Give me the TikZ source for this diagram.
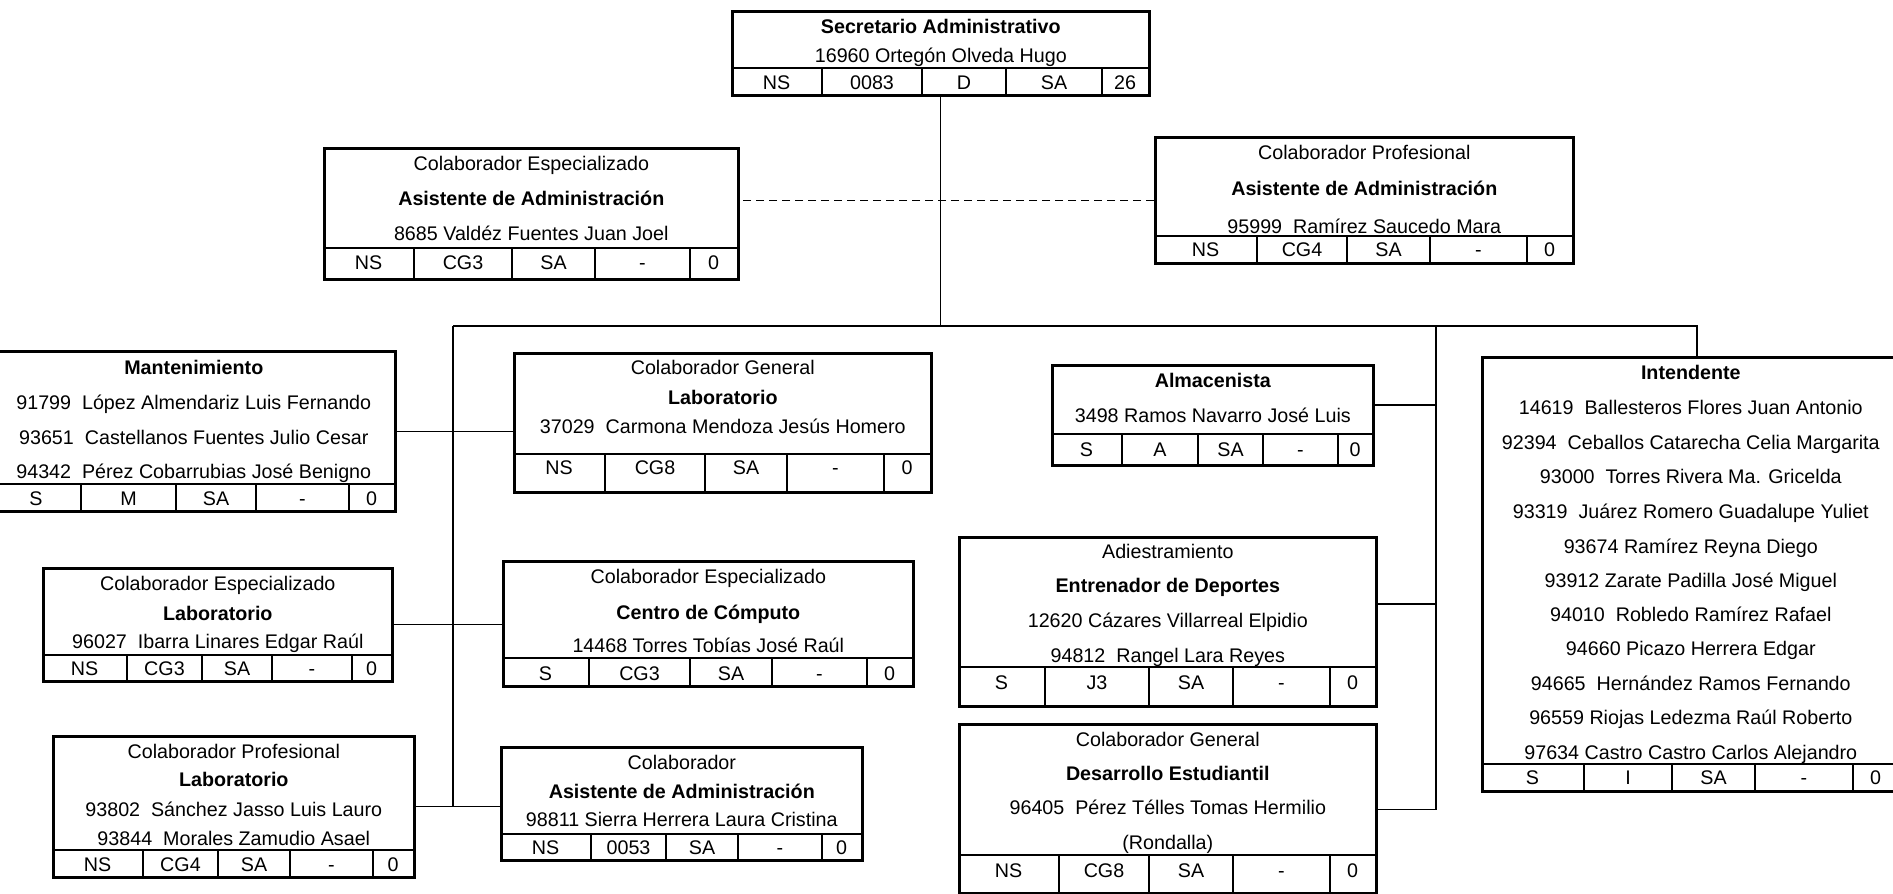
\documentclass[tikz,border=0pt]{standalone}
\usepackage{fontspec}
\setmainfont{Liberation Sans}

\begin{document}
\begin{tikzpicture}[x=1pt, y=-1pt,
  every node/.style={font=\fontsize{19.7pt}{24pt}\selectfont},
  puesto/.style={draw=black, line width=2.6pt, inner sep=0pt, anchor=north west},
  linea/.style={inner sep=0pt, text height=14pt, text depth=0pt},
  celda/.style={line width=2pt},
  enlace/.style={line width=1.3pt}]

\useasboundingbox (0,0) rectangle (1893,894);

\node [puesto, minimum width=417pt, minimum height=84pt] (sec) at (731,10) {};
\node [linea] (sec-l1) at (sec.north |- 0,26) {\bfseries Secretario Administrativo};
\node [linea] (sec-l2) at (sec.north |- 0,55) {16960 Ortegón Olveda Hugo};
\draw [celda] (sec.west |- 0,68) -- (sec.east |- 0,68) (822,68) -- (822,94) (922,68) -- (922,94) (1006,68) -- (1006,94) (1102,68) -- (1102,94);
\node [linea] (sec-c1) at (776.5,82) {NS};
\node [linea] (sec-c2) at (872,82) {0083};
\node [linea] (sec-c3) at (964,82) {D};
\node [linea] (sec-c4) at (1054,82) {SA};
\node [linea] (sec-c5) at (1125,82) {26};

\node [puesto, minimum width=414pt, minimum height=131pt] (ceasist) at (323,147) {};
\node [linea] (ceasist-l1) at (ceasist.north |- 0,163) {Colaborador Especializado};
\node [linea] (ceasist-l2) at (ceasist.north |- 0,198) {\bfseries Asistente de Administración};
\node [linea] (ceasist-l3) at (ceasist.north |- 0,233) {8685 Valdéz Fuentes Juan Joel};
\draw [celda] (ceasist.west |- 0,248) -- (ceasist.east |- 0,248) (414,248) -- (414,278) (512,248) -- (512,278) (595,248) -- (595,278) (690,248) -- (690,278);
\node [linea] (ceasist-c1) at (368.5,262) {NS};
\node [linea] (ceasist-c2) at (463,262) {CG3};
\node [linea] (ceasist-c3) at (553.5,262) {SA};
\node [linea] (ceasist-c4) at (642.5,262) {-};
\node [linea] (ceasist-c5) at (713.5,262) {0};

\node [puesto, minimum width=418pt, minimum height=126pt] (cpasist) at (1154,136) {};
\node [linea] (cpasist-l1) at (cpasist.north |- 0,152) {Colaborador Profesional};
\node [linea] (cpasist-l2) at (cpasist.north |- 0,188) {\bfseries Asistente de Administración};
\node [linea] (cpasist-l3) at (cpasist.north |- 0,226) {95999~~Ramírez Saucedo Mara};
\draw [celda] (cpasist.west |- 0,236) -- (cpasist.east |- 0,236) (1257,236) -- (1257,262) (1347,236) -- (1347,262) (1430,236) -- (1430,262) (1527,236) -- (1527,262);
\node [linea] (cpasist-c1) at (1205.5,249) {NS};
\node [linea] (cpasist-c2) at (1302,249) {CG4};
\node [linea] (cpasist-c3) at (1388.5,249) {SA};
\node [linea] (cpasist-c4) at (1478.5,249) {-};
\node [linea] (cpasist-c5) at (1549.5,249) {0};

\node [puesto, minimum width=403pt, minimum height=160pt] (mant) at (-9,350) {};
\node [linea] (mant-l1) at (mant.north |- 0,367) {\bfseries Mantenimiento};
\node [linea] (mant-l2) at (mant.north |- 0,402) {91799~~López Almendariz Luis Fernando};
\node [linea] (mant-l3) at (mant.north |- 0,437) {93651~~Castellanos Fuentes Julio Cesar};
\node [linea] (mant-l4) at (mant.north |- 0,471) {94342~~Pérez Cobarrubias José Benigno};
\draw [celda] (mant.west |- 0,484) -- (mant.east |- 0,484) (81,484) -- (81,510) (176,484) -- (176,510) (256,484) -- (256,510) (349,484) -- (349,510);
\node [linea] (mant-c1) at (36,498) {S};
\node [linea] (mant-c2) at (128.5,498) {M};
\node [linea] (mant-c3) at (216,498) {SA};
\node [linea] (mant-c4) at (302.5,498) {-};
\node [linea] (mant-c5) at (371.5,498) {0};

\node [puesto, minimum width=417pt, minimum height=139pt] (labcg) at (513,352) {};
\node [linea] (labcg-l1) at (labcg.north |- 0,367.5) {Colaborador General};
\node [linea] (labcg-l2) at (labcg.north |- 0,397) {\bfseries Laboratorio};
\node [linea] (labcg-l3) at (labcg.north |- 0,426) {37029~~Carmona Mendoza Jesús Homero};
\draw [celda] (labcg.west |- 0,454) -- (labcg.east |- 0,454) (605,454) -- (605,491) (705,454) -- (705,491) (787,454) -- (787,491) (884,454) -- (884,491);
\node [linea] (labcg-c1) at (559,467.5) {NS};
\node [linea] (labcg-c2) at (655,467.5) {CG8};
\node [linea] (labcg-c3) at (746,467.5) {SA};
\node [linea] (labcg-c4) at (835.5,467.5) {-};
\node [linea] (labcg-c5) at (907,467.5) {0};

\node [puesto, minimum width=349pt, minimum height=113pt] (celab) at (42,567) {};
\node [linea] (celab-l1) at (celab.north |- 0,583) {Colaborador Especializado};
\node [linea] (celab-l2) at (celab.north |- 0,613) {\bfseries Laboratorio};
\node [linea] (celab-l3) at (celab.north |- 0,641) {96027~~Ibarra Linares Edgar Raúl};
\draw [celda] (celab.west |- 0,655) -- (celab.east |- 0,655) (127,655) -- (127,680) (202,655) -- (202,680) (272,655) -- (272,680) (352,655) -- (352,680);
\node [linea] (celab-c1) at (84.5,668) {NS};
\node [linea] (celab-c2) at (164.5,668) {CG3};
\node [linea] (celab-c3) at (237,668) {SA};
\node [linea] (celab-c4) at (312,668) {-};
\node [linea] (celab-c5) at (371.5,668) {0};

\node [puesto, minimum width=410pt, minimum height=125pt] (cc) at (502,560) {};
\node [linea] (cc-l1) at (cc.north |- 0,576) {Colaborador Especializado};
\node [linea] (cc-l2) at (cc.north |- 0,612) {\bfseries Centro de Cómputo};
\node [linea] (cc-l3) at (cc.north |- 0,645) {14468 Torres Tobías José Raúl};
\draw [celda] (cc.west |- 0,658) -- (cc.east |- 0,658) (589,658) -- (589,685) (690,658) -- (690,685) (772,658) -- (772,685) (867,658) -- (867,685);
\node [linea] (cc-c1) at (545.5,673) {S};
\node [linea] (cc-c2) at (639.5,673) {CG3};
\node [linea] (cc-c3) at (731,673) {SA};
\node [linea] (cc-c4) at (819.5,673) {-};
\node [linea] (cc-c5) at (889.5,673) {0};

\node [puesto, minimum width=361pt, minimum height=141pt] (cplab) at (52,735) {};
\node [linea] (cplab-l1) at (cplab.north |- 0,751) {Colaborador Profesional};
\node [linea] (cplab-l2) at (cplab.north |- 0,779) {\bfseries Laboratorio};
\node [linea] (cplab-l3) at (cplab.north |- 0,809) {93802~~Sánchez Jasso Luis Lauro};
\node [linea] (cplab-l4) at (cplab.north |- 0,838) {93844~~Morales Zamudio Asael};
\draw [celda] (cplab.west |- 0,850) -- (cplab.east |- 0,850) (143,850) -- (143,876) (218,850) -- (218,876) (290,850) -- (290,876) (373,850) -- (373,876);
\node [linea] (cplab-c1) at (97.5,864) {NS};
\node [linea] (cplab-c2) at (180.5,864) {CG4};
\node [linea] (cplab-c3) at (254,864) {SA};
\node [linea] (cplab-c4) at (331.5,864) {-};
\node [linea] (cplab-c5) at (393,864) {0};

\node [puesto, minimum width=361pt, minimum height=113pt] (colab) at (500,746) {};
\node [linea] (colab-l1) at (colab.north |- 0,762) {Colaborador};
\node [linea] (colab-l2) at (colab.north |- 0,791) {\bfseries Asistente de Administración};
\node [linea] (colab-l3) at (colab.north |- 0,819) {98811 Sierra Herrera Laura Cristina};
\draw [celda] (colab.west |- 0,834) -- (colab.east |- 0,834) (591,834) -- (591,859) (666,834) -- (666,859) (738,834) -- (738,859) (822,834) -- (822,859);
\node [linea] (colab-c1) at (545.5,847) {NS};
\node [linea] (colab-c2) at (628.5,847) {0053};
\node [linea] (colab-c3) at (702,847) {SA};
\node [linea] (colab-c4) at (780,847) {-};
\node [linea] (colab-c5) at (841.5,847) {0};

\node [puesto, minimum width=321pt, minimum height=100pt] (alm) at (1051,364) {};
\node [linea] (alm-l1) at (alm.north |- 0,380) {\bfseries Almacenista};
\node [linea] (alm-l2) at (alm.north |- 0,415.5) {3498 Ramos Navarro José Luis};
\draw [celda] (alm.west |- 0,434) -- (alm.east |- 0,434) (1122,434) -- (1122,464) (1198,434) -- (1198,464) (1263,434) -- (1263,464) (1338,434) -- (1338,464);
\node [linea] (alm-c1) at (1086.5,449) {S};
\node [linea] (alm-c2) at (1160,449) {A};
\node [linea] (alm-c3) at (1230.5,449) {SA};
\node [linea] (alm-c4) at (1300.5,449) {-};
\node [linea] (alm-c5) at (1355,449) {0};

\node [puesto, minimum width=417pt, minimum height=169pt] (adi) at (958,536) {};
\node [linea] (adi-l1) at (adi.north |- 0,551) {Adiestramiento};
\node [linea] (adi-l2) at (adi.north |- 0,585) {\bfseries Entrenador de Deportes};
\node [linea] (adi-l3) at (adi.north |- 0,620) {12620 Cázares Villarreal Elpidio};
\node [linea] (adi-l4) at (adi.north |- 0,655) {94812~~Rangel Lara Reyes};
\draw [celda] (adi.west |- 0,667) -- (adi.east |- 0,667) (1045,667) -- (1045,705) (1149,667) -- (1149,705) (1233,667) -- (1233,705) (1330,667) -- (1330,705);
\node [linea] (adi-c1) at (1001.5,682) {S};
\node [linea] (adi-c2) at (1097,682) {J3};
\node [linea] (adi-c3) at (1191,682) {SA};
\node [linea] (adi-c4) at (1281.5,682) {-};
\node [linea] (adi-c5) at (1352.5,682) {0};

\node [puesto, minimum width=417pt, minimum height=169pt] (des) at (958,723) {};
\node [linea] (des-l1) at (des.north |- 0,739) {Colaborador General};
\node [linea] (des-l2) at (des.north |- 0,773) {\bfseries Desarrollo Estudiantil};
\node [linea] (des-l3) at (des.north |- 0,807.5) {96405~~Pérez Télles Tomas Hermilio};
\node [linea] (des-l4) at (des.north |- 0,842) {(Rondalla)};
\draw [celda] (des.west |- 0,855) -- (des.east |- 0,855) (1059,855) -- (1059,892) (1149,855) -- (1149,892) (1233,855) -- (1233,892) (1330,855) -- (1330,892);
\node [linea] (des-c1) at (1008.5,870) {NS};
\node [linea] (des-c2) at (1104,870) {CG8};
\node [linea] (des-c3) at (1191,870) {SA};
\node [linea] (des-c4) at (1281.5,870) {-};
\node [linea] (des-c5) at (1352.5,870) {0};

\node [puesto, minimum width=417pt, minimum height=434pt] (intend) at (1481,356) {};
\node [linea] (intend-l1) at (intend.north |- 0,372) {\bfseries Intendente};
\node [linea] (intend-l2) at (intend.north |- 0,407) {14619~~Ballesteros Flores Juan Antonio};
\node [linea] (intend-l3) at (intend.north |- 0,442) {92394~~Ceballos Catarecha Celia Margarita};
\node [linea] (intend-l4) at (intend.north |- 0,476) {93000~~Torres Rivera Ma. Gricelda};
\node [linea] (intend-l5) at (intend.north |- 0,511) {93319~~Juárez Romero Guadalupe Yuliet};
\node [linea] (intend-l6) at (intend.north |- 0,546) {93674 Ramírez Reyna Diego};
\node [linea] (intend-l7) at (intend.north |- 0,580) {93912 Zarate Padilla José Miguel};
\node [linea] (intend-l8) at (intend.north |- 0,614) {94010~~Robledo Ramírez Rafael};
\node [linea] (intend-l9) at (intend.north |- 0,648) {94660 Picazo Herrera Edgar};
\node [linea] (intend-l10) at (intend.north |- 0,683) {94665~~Hernández Ramos Fernando};
\node [linea] (intend-l11) at (intend.north |- 0,717) {96559 Riojas Ledezma Raúl Roberto};
\node [linea] (intend-l12) at (intend.north |- 0,752) {97634 Castro Castro Carlos Alejandro};
\draw [celda] (intend.west |- 0,764) -- (intend.east |- 0,764) (1584,764) -- (1584,790) (1672,764) -- (1672,790) (1755,764) -- (1755,790) (1853,764) -- (1853,790);
\node [linea] (intend-c1) at (1532.5,777) {S};
\node [linea] (intend-c2) at (1628,777) {I};
\node [linea] (intend-c3) at (1713.5,777) {SA};
\node [linea] (intend-c4) at (1804,777) {-};
\node [linea] (intend-c5) at (1875.5,777) {0};

\coordinate (busL) at (453,326);
\coordinate (busR) at (1697,326);
\coordinate (spineL) at (453,807);
\coordinate (spineRtop) at (1436,326);
\coordinate (spineR) at (1436,810);
\coordinate (jAlm) at (1436,405);
\coordinate (jAdi) at (1436,604);
\coordinate (jDes) at (1436,809.5);

\draw [enlace] (sec.south) -- (sec.south |- busL);
\draw [enlace] (busL) -- (busR) -- (busR |- intend.north);
\draw [enlace] (busL) -- (spineL);
\draw [enlace] (spineRtop) -- (spineR);
\draw [enlace, dash pattern=on 8pt off 5pt] (cpasist.west) -- (cpasist.west -| ceasist.east);
\draw [enlace] (mant.east) -- (mant.east -| labcg.west);
\draw [enlace] (celab.east) -- (celab.east -| cc.west);
\draw [enlace] (cplab.east) -- (cplab.east -| colab.west);
\draw [enlace] (jAlm) -- (jAlm -| alm.east);
\draw [enlace] (jAdi) -- (jAdi -| adi.east);
\draw [enlace] (jDes) -- (jDes -| des.east);
\end{tikzpicture}
\end{document}
